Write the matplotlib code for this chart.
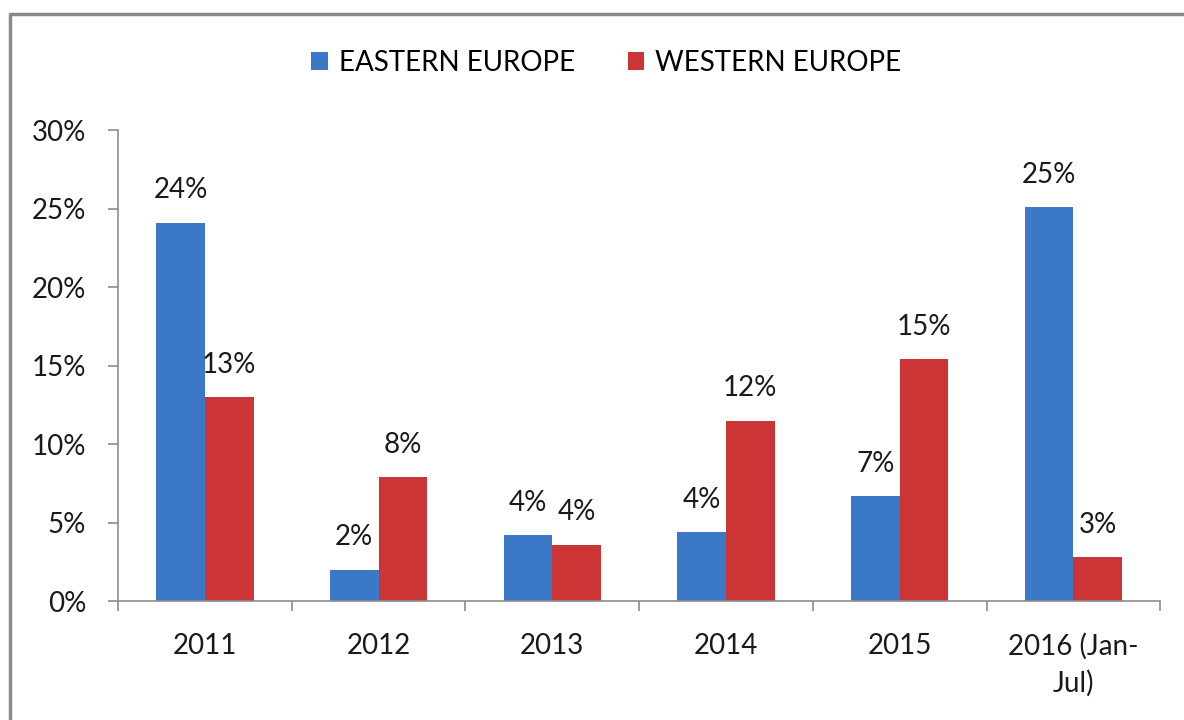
import matplotlib.pyplot as plt
from matplotlib.lines import Line2D
import numpy as np

plt.rcParams['font.family'] = ['Lato', 'DejaVu Sans']

# yearly change, percent
years = ['2011', '2012', '2013', '2014', '2015', '2016 (Jan-\nJul)']
eastern = [24.1, 2.0, 4.2, 4.4, 6.7, 25.1]
western = [13.0, 7.9, 3.6, 11.5, 15.4, 2.8]
series_names = ['EASTERN EUROPE', 'WESTERN EUROPE']

blue = '#3B78C8'
red = '#CC3535'
grey = '#8C8C8C'
txt = '#1a1a1a'
fs = 20

fig = plt.figure(figsize=(11.84, 7.2), dpi=100)
ax = fig.add_axes([0.0997, 0.165, 0.8803, 0.6542])

x = np.arange(len(years))
w = 0.28
b1 = ax.bar(x - w / 2, eastern, w, color=blue, label=series_names[0])
b2 = ax.bar(x + w / 2, western, w, color=red, label=series_names[1])

for bars, vals in ((b1, eastern), (b2, western)):
    for rect, v in zip(bars, vals):
        ax.annotate('{:.0f}%'.format(v),
                    (rect.get_x() + rect.get_width() / 2, rect.get_height()),
                    xytext=(0, 14), textcoords='offset points',
                    ha='center', va='bottom', fontsize=fs, color=txt)

ax.set_xlim(-0.5, len(years) - 0.5)
ax.set_ylim(0, 30)
ax.set_yticks(np.arange(0, 31, 5))
ax.set_yticklabels(['{}%'.format(t) for t in range(0, 31, 5)])

# boundary ticks between groups, labels at the group centres
ax.set_xticks(np.arange(-0.5, len(years), 1))
ax.set_xticklabels([])
ax.set_xticks(x, minor=True)
ax.set_xticklabels(years, minor=True)
ax.tick_params(axis='x', which='minor', length=0, pad=23)
ax.tick_params(axis='x', which='major', length=7, width=1.2, color=grey)
ax.tick_params(axis='y', length=7, width=1.2, color=grey, pad=16)
ax.tick_params(which='both', labelsize=fs, labelcolor=txt)
for lab in ax.get_xticklabels(minor=True):
    lab.set_linespacing(1.45)

for s in ('top', 'right'):
    ax.spines[s].set_visible(False)
for s in ('left', 'bottom'):
    ax.spines[s].set_color(grey)
    ax.spines[s].set_linewidth(1.2)

fig.legend(handles=[b1, b2], loc='center', bbox_to_anchor=(0.512, 0.913),
           ncol=2, frameon=False, fontsize=fs, handlelength=0.6,
           handleheight=0.6, handletextpad=0.4, columnspacing=1.9)

# outer frame: left and top edges
frame_x = [0.0085, 0.0085, 1.0]
frame_y = [0.0, 0.981, 0.981]
fig.lines.append(Line2D(frame_x, frame_y, transform=fig.transFigure,
                        color='#8a8a8a', linewidth=2.5))

fig.savefig('out.png', dpi=100)
